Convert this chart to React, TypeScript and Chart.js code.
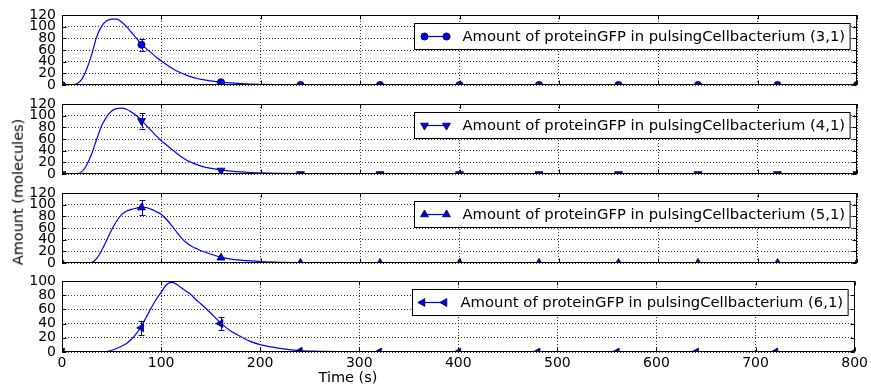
import React, { useEffect, useRef } from 'react';
import { Chart, registerables } from 'chart.js';
Chart.register(...registerables);

// ---- data ----
const LINE_T = [0, 5, 10, 15, 20, 25, 30, 35, 40, 45, 50, 55, 60, 65, 70, 75, 80, 85, 90, 95, 100, 105, 110, 115, 120, 125, 130, 135, 140,
  150, 160, 170, 180, 190, 200, 220, 240, 260, 280, 300, 350, 400, 500, 600, 700, 800];

const LINE_31 = [0, 0, 0, 2, 10, 28, 53, 83, 101, 110, 113, 113, 108, 100, 90, 80, 70, 62, 55, 47.5, 41, 35, 29.5, 24.5, 20.5, 17, 14, 11.5, 9.5,
  7, 4.8, 3.5, 2.4, 1.6, 1.1, 0.6, 0.3, 0.2, 0.1, 0.05, 0, 0, 0, 0, 0, 0];
const LINE_41 = [0, 0, 0, 0.5, 4, 16, 35, 60, 83, 98, 108, 112, 113, 111, 106, 100, 92, 83, 74, 65, 57, 50, 43, 36, 29.5, 24, 20, 16.5, 13.5,
  9.5, 7, 5, 3.6, 2.6, 1.8, 1, 0.5, 0.3, 0.15, 0.1, 0, 0, 0, 0, 0, 0];
const LINE_51 = [0, 0, 0, 0, 0, 0, 1, 8, 22, 39, 57, 72, 83, 89, 92, 94, 96, 95, 92, 88, 83, 75, 65, 54, 43, 35, 29, 25, 21,
  15, 10, 6.8, 5, 3.5, 2.4, 1.2, 0.6, 0.3, 0.15, 0.1, 0, 0, 0, 0, 0, 0];
const LINE_61 = [0, 0, 0, 0, 0, 0, 0, 0, 0, 0.5, 2.5, 5, 8, 12, 18, 26, 36, 49, 62, 74, 84, 94, 98, 96, 91, 86, 81, 74, 68,
  55, 41, 30, 22, 15, 10.5, 5, 2, 1, 0.4, 0.2, 0, 0, 0, 0, 0, 0];

const MARK_T = [0, 80, 160, 240, 320, 400, 480, 560, 640, 720, 800];
const MARK_31 = [0, 69, 4.5, 0, 0, 0, 0, 0, 0, 0, 0];
const ERR_31 = [0, 10, 0, 0, 0, 0, 0, 0, 0, 0, 0];
const MARK_41 = [0, 91, 6, 0, 0, 0, 0, 0, 0, 0, 0];
const ERR_41 = [0, 13, 0, 0, 0, 0, 0, 0, 0, 0, 0];
const MARK_51 = [0, 95, 9, 0, 0, 0, 0, 0, 0, 0, 0];
const ERR_51 = [0, 13, 0, 0, 0, 0, 0, 0, 0, 0, 0];
const MARK_61 = [0, 34, 40, 1, 0, 0, 0, 0, 0, 0, 0];
const ERR_61 = [0, 10, 9.5, 0, 0, 0, 0, 0, 0, 0, 0];

const LABELS = [
  'Amount of proteinGFP in pulsingCellbacterium (3,1)',
  'Amount of proteinGFP in pulsingCellbacterium (4,1)',
  'Amount of proteinGFP in pulsingCellbacterium (5,1)',
  'Amount of proteinGFP in pulsingCellbacterium (6,1)',
];
const Y_MAX = [120, 120, 120, 100];
const X_TICK_STEP = 100;
const Y_TICK_STEP = 20;
const X_TITLE = 'Time (s)';
const Y_TITLE = 'Amount (molecules)';

const LINES = [LINE_31, LINE_41, LINE_51, LINE_61];
const MARKS = [MARK_31, MARK_41, MARK_51, MARK_61];
const ERRS = [ERR_31, ERR_41, ERR_51, ERR_61];
const STYLES = ['circle', 'triangle', 'triangle', 'triangle'];
const ROTS = [0, 180, 0, -90];
const RADII = [3.6, 4.6, 4.6, 4.6];

const BLUE = '#0000ff';
const FONT = "'DejaVu Sans', sans-serif";
const PANEL_TOPS = [15, 104, 193, 281];
const PANEL_H = 70;
const PAD = 20;

function drawMarker(ctx: CanvasRenderingContext2D, style: string, rot: number, r: number, x: number, y: number) {
  ctx.save();
  ctx.fillStyle = BLUE;
  ctx.strokeStyle = '#000';
  ctx.lineWidth = 0.8;
  ctx.beginPath();
  if (style === 'circle') {
    ctx.arc(x, y, r, 0, Math.PI * 2);
  } else {
    let rad = (rot * Math.PI) / 180;
    ctx.moveTo(x + Math.sin(rad) * r, y - Math.cos(rad) * r);
    rad += (2 * Math.PI) / 3;
    ctx.lineTo(x + Math.sin(rad) * r, y - Math.cos(rad) * r);
    rad += (2 * Math.PI) / 3;
    ctx.lineTo(x + Math.sin(rad) * r, y - Math.cos(rad) * r);
    ctx.closePath();
  }
  ctx.fill();
  ctx.stroke();
  ctx.restore();
}

function decor(idx: number) {
  return {
    id: 'decor' + idx,
    beforeDatasetsDraw(chart: any) {
      const { ctx, chartArea: a, scales } = chart;
      ctx.save();
      ctx.beginPath();
      ctx.rect(a.left, a.top, a.right - a.left, a.bottom - a.top);
      ctx.clip();
      ctx.strokeStyle = BLUE;
      ctx.lineWidth = 1;
      MARK_T.forEach((t, i) => {
        const e = ERRS[idx][i];
        if (!e) return;
        const v = MARKS[idx][i];
        const x = Math.round(scales.x.getPixelForValue(t)) + 0.5;
        const y1 = scales.y.getPixelForValue(v - e);
        const y2 = scales.y.getPixelForValue(v + e);
        ctx.beginPath();
        ctx.moveTo(x, y1);
        ctx.lineTo(x, y2);
        ctx.moveTo(x - 3, Math.round(y1) + 0.5);
        ctx.lineTo(x + 3, Math.round(y1) + 0.5);
        ctx.moveTo(x - 3, Math.round(y2) + 0.5);
        ctx.lineTo(x + 3, Math.round(y2) + 0.5);
        ctx.stroke();
      });
      ctx.restore();
    },
    afterDraw(chart: any) {
      const { ctx, chartArea: a, scales } = chart;
      const L = Math.round(a.left) + 0.5;
      const R = Math.round(a.right) - 0.5;
      const T = Math.round(a.top) + 0.5;
      const B = Math.round(a.bottom) - 0.5;
      ctx.save();
      ctx.strokeStyle = '#000';
      ctx.lineWidth = 1;
      // inward ticks
      ctx.beginPath();
      for (let v = 0; v <= 800; v += X_TICK_STEP) {
        const x = Math.round(scales.x.getPixelForValue(v)) + 0.5;
        ctx.moveTo(x, B);
        ctx.lineTo(x, B - 4);
        ctx.moveTo(x, T);
        ctx.lineTo(x, T + 4);
      }
      for (let v = 0; v <= Y_MAX[idx]; v += Y_TICK_STEP) {
        const y = Math.round(scales.y.getPixelForValue(v)) + 0.5;
        ctx.moveTo(L, y);
        ctx.lineTo(L + 4, y);
        ctx.moveTo(R, y);
        ctx.lineTo(R - 4, y);
      }
      ctx.stroke();
      // frame
      ctx.strokeRect(L, T, R - L, B - T);
      // legend
      ctx.font = '14.8px ' + FONT;
      const tw = ctx.measureText(LABELS[idx]).width;
      const bw = 48 + tw + 5;
      const bh = 26;
      const bx = Math.round(a.right - 7 - bw) + 0.5;
      const by = Math.round(a.top + 8) + 0.5;
      ctx.fillStyle = '#fff';
      ctx.fillRect(bx, by, bw, bh);
      ctx.strokeRect(bx, by, bw, bh);
      const cy = by + bh / 2;
      ctx.strokeStyle = BLUE;
      ctx.lineWidth = 1.2;
      ctx.beginPath();
      ctx.moveTo(bx + 10, cy);
      ctx.lineTo(bx + 32, cy);
      ctx.stroke();
      drawMarker(ctx, STYLES[idx], ROTS[idx], RADII[idx], bx + 10, cy);
      drawMarker(ctx, STYLES[idx], ROTS[idx], RADII[idx], bx + 32, cy);
      ctx.fillStyle = '#000';
      ctx.textBaseline = 'middle';
      ctx.textAlign = 'left';
      ctx.fillText(LABELS[idx], bx + 48, cy + 1);
      ctx.restore();
    },
  };
}

function Panel({ idx, top, height, last }: { idx: number; top: number; height: number; last: boolean }) {
  const ref = useRef<HTMLCanvasElement>(null);
  useEffect(() => {
    const tickFont = { family: FONT, size: 14 };
    const chart = new Chart(ref.current!, {
      type: 'line',
      data: {
        datasets: [
          {
            data: MARK_T.map((t, i) => ({ x: t, y: MARKS[idx][i] })),
            showLine: false,
            pointStyle: STYLES[idx] as any,
            rotation: ROTS[idx],
            pointRadius: RADII[idx],
            pointBackgroundColor: BLUE,
            pointBorderColor: '#000',
            pointBorderWidth: 0.8,
            order: 1,
            clip: 0,
          } as any,
          {
            data: LINE_T.map((t, i) => ({ x: t, y: LINES[idx][i] })),
            borderColor: BLUE,
            borderWidth: 1.2,
            pointRadius: 0,
            cubicInterpolationMode: 'monotone',
            fill: false,
            order: 2,
            clip: 0,
          } as any,
        ],
      },
      options: {
        animation: false,
        responsive: false,
        events: [],
        layout: { padding: { left: 0, right: 14, top: PAD, bottom: last ? 0 : PAD } },
        plugins: { legend: { display: false }, tooltip: { enabled: false } },
        scales: {
          x: {
            type: 'linear',
            min: 0,
            max: 800,
            ticks: { stepSize: X_TICK_STEP, display: last, font: tickFont, color: '#000', padding: 3, maxRotation: 0, autoSkip: false },
            grid: { color: '#000', lineWidth: 0.8, drawTicks: false },
            border: { display: false, dash: [1, 2] },
            afterFit: (s: any) => { s.height = last ? 35 : 0; },
          },
          y: {
            type: 'linear',
            min: 0,
            max: Y_MAX[idx],
            ticks: { stepSize: Y_TICK_STEP, font: tickFont, color: '#000', padding: 6, autoSkip: false },
            grid: { color: '#000', lineWidth: 0.8, drawTicks: false },
            border: { display: false, dash: [1, 2] },
            afterFit: (s: any) => { s.width = 62; },
          },
        },
      } as any,
      plugins: [decor(idx)],
    });
    return () => chart.destroy();
  }, []);
  return (
    <canvas
      ref={ref}
      width={871}
      height={height}
      style={{ position: 'absolute', left: 0, top, width: 871, height }}
    />
  );
}

export default function App() {
  return (
    <div style={{ position: 'absolute', left: 0, top: 0, width: 871, height: 387, background: '#fff', overflow: 'hidden' }}>
      {PANEL_TOPS.map((pt, i) => {
        const last = i === PANEL_TOPS.length - 1;
        const top = pt - PAD;
        const height = last ? 387 - top : PANEL_H + 2 * PAD;
        return <Panel key={i} idx={i} top={top} height={height} last={last} />;
      })}
      <div
        style={{
          position: 'absolute', left: 18, top: 192, transform: 'translate(-50%,-50%) rotate(-90deg)',
          fontFamily: FONT, fontSize: 14.5, whiteSpace: 'nowrap', lineHeight: 1, color: '#000',
        }}
      >
        {Y_TITLE}
      </div>
      <div
        style={{
          position: 'absolute', left: 348, top: 377, transform: 'translate(-50%,-50%)',
          fontFamily: FONT, fontSize: 14.5, whiteSpace: 'nowrap', lineHeight: 1, color: '#000',
        }}
      >
        {X_TITLE}
      </div>
    </div>
  );
}
